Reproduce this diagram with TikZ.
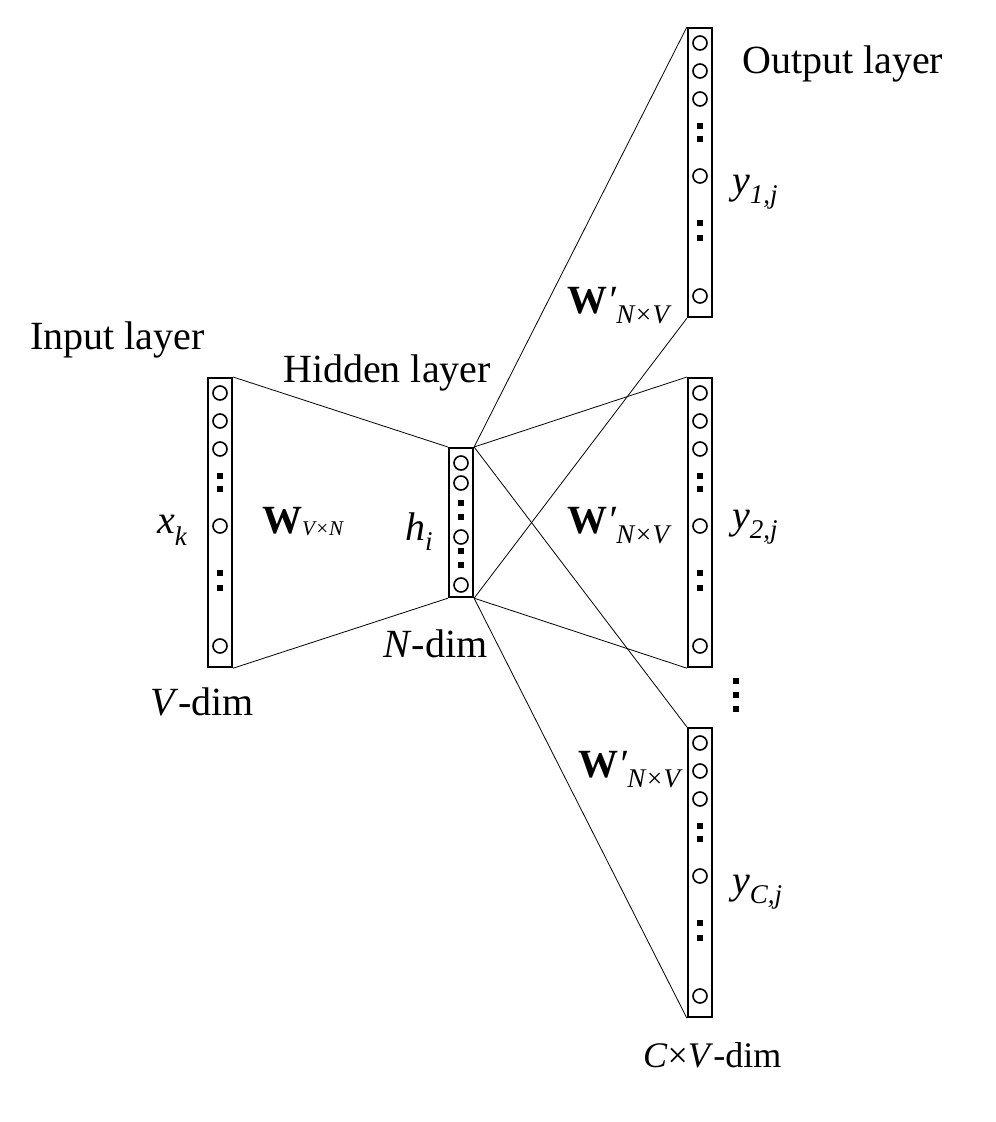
\documentclass[tikz,border=0pt]{standalone}
\usepackage{fontspec}
\setmainfont{Liberation Serif}
\usetikzlibrary{positioning}
\tikzstyle{layer}=[rectangle,draw,line width=2.2pt,minimum width=24pt,inner sep=0pt]
\tikzstyle{unit}=[circle,draw,line width=1.6pt,minimum size=14pt,inner sep=0pt]
\tikzstyle{gap}=[rectangle,fill=black,minimum size=6pt,inner sep=0pt]
\tikzstyle{weight}=[line width=0.8pt]
\tikzstyle{lbl}=[anchor=base west,inner sep=0pt,font=\fontsize{40}{48}\selectfont]
\newcommand{\subf}{\fontsize{27}{32}\selectfont\itshape}
\newcommand{\smallsubf}{\fontsize{21}{25}\selectfont\itshape}

\begin{document}
\begin{tikzpicture}[x=1pt,y=-1pt]
    \useasboundingbox (0,0) rectangle (996,1122);

    % input and output layers
    \foreach \name/\x/\y in {in/220/377, out1/700/27, out2/700/377, out3/700/727} {
        \node[layer, minimum height=289pt, anchor=north] (\name) at (\x,\y) {};
        \foreach \k/\dy in {1/16, 2/44, 3/72, 4/149, 5/269}
            \node[unit] (\name-\k) at (\x,\y+\dy) {};
        \foreach \k/\dy in {1/99, 2/112, 3/196, 4/211}
            \node[gap] (\name-d\k) at (\x,\y+\dy) {};
    }

    % hidden layer
    \node[layer, minimum height=149pt, anchor=north] (hid) at (461,447) {};
    \foreach \k/\dy in {1/16, 2/36, 3/90, 4/138}
        \node[unit] (hid-\k) at (461,447+\dy) {};
    \foreach \k/\dy in {1/56, 2/70, 3/104, 4/118}
        \node[gap] (hid-d\k) at (461,447+\dy) {};

    % more output panels
    \foreach \k/\y in {1/681, 2/695, 3/709}
        \node[gap] (more-\k) at (736,\y) {};

             \draw[weight] (in.north east) to (hid.north west);
             \draw[weight] (in.south east) to (hid.south west);
    \foreach \o in {out1, out2, out3} {
             \draw[weight] (hid.north east) to (\o.north west);
             \draw[weight] (hid.south east) to (\o.south west);
    }

    % labels
    \node[lbl] (lin) at (30,349) {Input layer};
    \node[lbl] (lhid) at (283,382) {Hidden layer};
    \node[lbl] (lout) at (742,73) {Output layer};
    \node[lbl] (xk) at (157,533) {\textit{x}\raisebox{-12pt}{\subf k}};
    \node[lbl] (wvn) at (262,533) {\textbf{W}\raisebox{-2pt}{\smallsubf V×N}};
    \node[lbl] (hi) at (405,540) {\textit{h}\raisebox{-10pt}{\subf i}};
    \node[lbl] (ndim) at (383,657) {\textit{N}-dim};
    \node[lbl] (vdim) at (150,715) {\textit{V}-dim};
    \foreach \name/\x/\y in {w1/567/313, w2/567/533, w3/578/777}
        \node[lbl] (\name) at (\x,\y) {\textbf{W}\textit{′}\raisebox{-10pt}{\subf N×V}};
    \foreach \name/\y/\s in {y1/193/1{,}j, y2/528/2{,}j, yc/893/C{,}j}
        \node[lbl] (\name) at (732,\y) {\textit{y}\raisebox{-10pt}{\subf \s}};
    \node[lbl, font=\fontsize{36}{43}\selectfont] (cvdim) at (643,1067) {\textit{C}×\textit{V}-dim};

   \end{tikzpicture}
\end{document}
